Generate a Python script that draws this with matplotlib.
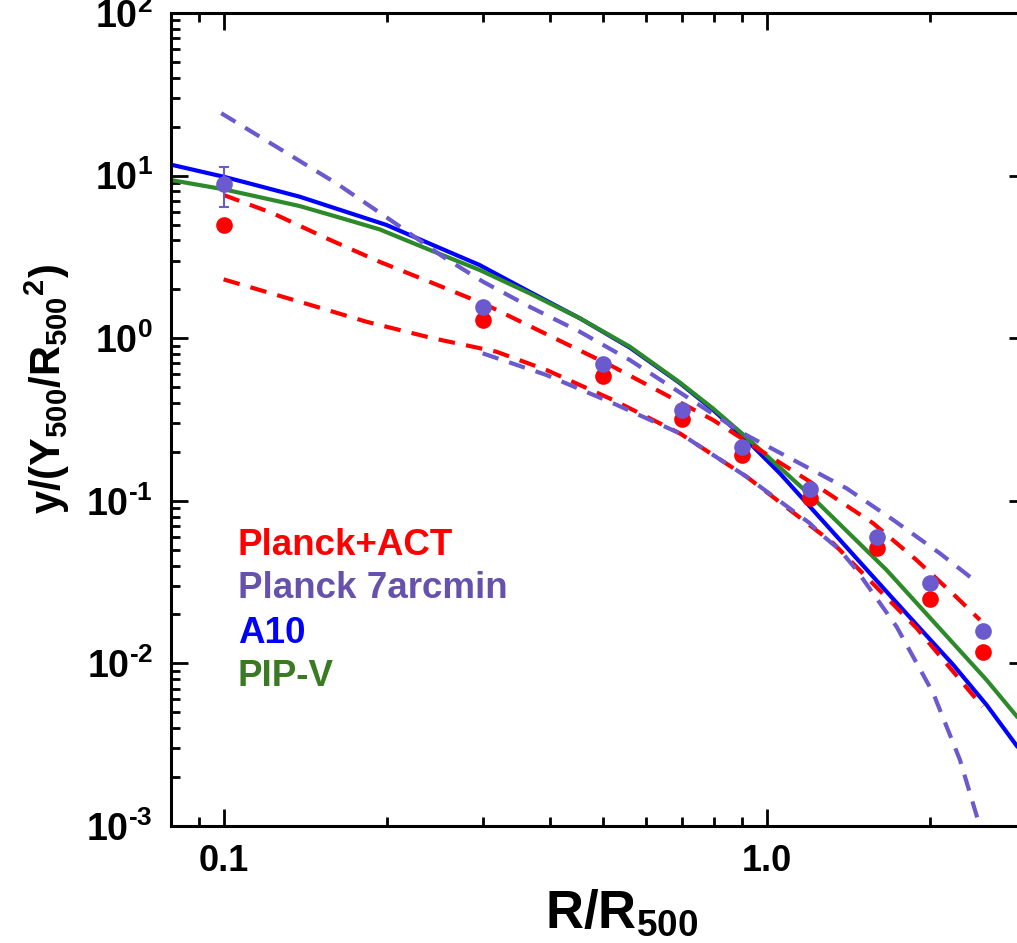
import matplotlib
matplotlib.use("Agg")
import matplotlib.pyplot as plt
from matplotlib.ticker import FixedLocator, NullFormatter, LogLocator

plt.rcParams['font.family'] = ['Liberation Sans', 'DejaVu Sans']
plt.rcParams['font.weight'] = 'bold'
plt.rcParams['mathtext.fontset'] = 'custom'
plt.rcParams['mathtext.rm'] = 'Liberation Sans:bold'
plt.rcParams['mathtext.it'] = 'Liberation Sans:bold'
plt.rcParams['mathtext.bf'] = 'Liberation Sans:bold'
plt.rcParams['mathtext.default'] = 'rm'

# ---- data points ----
r_pts = [0.1, 0.3, 0.5, 0.7, 0.9, 1.2, 1.6, 2.0, 2.5]
y_planck_act = [5.0, 1.29, 0.585, 0.32, 0.191, 0.104, 0.051, 0.0249, 0.0117]
y_planck_7 = [8.84, 1.55, 0.692, 0.364, 0.213, 0.118, 0.0597, 0.0311, 0.0158]
err_r = [0.1]
err_y = [8.84]
err_lo = [8.84 - 6.38]
err_hi = [11.3 - 8.84]

# ---- model curves ----
r_a10 = [0.0798, 0.1, 0.1117, 0.138, 0.1635, 0.1995, 0.243, 0.296, 0.366, 0.453,
         0.560, 0.692, 0.797, 0.919, 1.058, 1.185, 1.664, 1.917, 2.207, 2.543,
         2.892, 3.0]
y_a10 = [11.7, 9.84, 8.94, 7.42, 6.17, 4.97, 3.74, 2.82, 1.93, 1.326,
         0.875, 0.530, 0.362, 0.2365, 0.1476, 0.097, 0.0276, 0.0164, 0.0098, 0.00555,
         0.0031, 0.00262]

r_pip = [0.0798, 0.1, 0.1117, 0.138, 0.1635, 0.1938, 0.2397, 0.296, 0.366, 0.453,
         0.560, 0.692, 0.797, 0.919, 1.058, 1.202, 1.664, 2.207, 2.543, 2.892, 3.0]
y_pip = [9.40, 8.24, 7.60, 6.50, 5.52, 4.67, 3.49, 2.63, 1.89, 1.326,
         0.887, 0.535, 0.3696, 0.245, 0.1602, 0.1086, 0.0375, 0.01329, 0.0079,
         0.00471, 0.00415]

r_act_hi = [0.1, 0.1233, 0.1546, 0.1938, 0.243, 0.305, 0.5216, 0.645, 0.797,
            0.972, 1.271, 1.572, 1.889, 2.239, 2.472]
y_act_hi = [7.60, 5.86, 4.12, 2.95, 2.18, 1.60, 0.668, 0.458, 0.314,
            0.2053, 0.1165, 0.0727, 0.0432, 0.0255, 0.0185]

r_act_lo = [0.1, 0.138, 0.1832, 0.243, 0.318, 0.393, 0.5216, 0.692, 0.919,
            1.327, 1.889, 2.5]
y_act_lo = [2.30, 1.677, 1.263, 0.9986, 0.826, 0.638, 0.417, 0.260, 0.1406,
            0.0548, 0.0165, 0.00542]

r_p7_hi = [0.099, 0.125, 0.1613, 0.205, 0.2535, 0.3004, 0.366, 0.453, 0.560,
           0.743, 0.905, 1.136, 1.404, 1.712, 2.086, 2.454]
y_p7_hi = [24.2, 15.06, 8.97, 5.21, 3.17, 2.226, 1.562, 1.096, 0.734,
           0.398, 0.260, 0.174, 0.1193, 0.0762, 0.0475, 0.0311]

r_p7_lo = [0.3, 0.393, 0.5216, 0.692, 0.919, 1.202, 1.254, 1.365, 1.465,
           1.736, 2.028, 2.271, 2.472]
y_p7_lo = [0.807, 0.594, 0.398, 0.260, 0.1406, 0.0727, 0.0631, 0.0498, 0.0375,
           0.0168, 0.00655, 0.00255, 0.00099]

legend_labels = ['Planck+ACT', 'Planck 7arcmin', 'A10', 'PIP-V']

RED = '#FF0000'
PURPLE = '#6A5ACD'
PURPLE_TXT = '#6652AC'
BLUE = '#0000FF'
GREEN = '#2C8A2A'
GREEN_TXT = '#3A7A22'

W, H = 1017, 943
fig = plt.figure(figsize=(W / 100, H / 100), dpi=100)
left, right, top, bottom = 171, 1025.6, 13, 826
ax = fig.add_axes([left / W, (H - bottom) / H, (right - left) / W, (bottom - top) / H])

lw = 3.0
dash = (4.0, 2.7)
ax.plot(r_a10, y_a10, color=BLUE, lw=lw, solid_capstyle='butt',
        solid_joinstyle='round', zorder=2)
ax.plot(r_pip, y_pip, color=GREEN, lw=lw, solid_capstyle='butt',
        solid_joinstyle='round', zorder=2)
ax.plot(r_act_hi, y_act_hi, color=RED, lw=lw, dashes=dash, zorder=3)
ax.plot(r_act_lo, y_act_lo, color=RED, lw=lw, dashes=dash, zorder=3)
ax.plot(r_p7_hi, y_p7_hi, color=PURPLE, lw=lw, dashes=dash, zorder=3)
ax.plot(r_p7_lo, y_p7_lo, color=PURPLE, lw=lw, dashes=dash, zorder=3)

ax.plot(r_pts, y_planck_act, 'o', color=RED, ms=12, mec='none', zorder=4)
ax.errorbar(err_r, err_y, yerr=[err_lo, err_hi], fmt='none', ecolor=PURPLE,
            elinewidth=1.5, capsize=3.5, capthick=1.5, zorder=4)
ax.plot(r_pts, y_planck_7, 'o', color=PURPLE, ms=12, mec='none', zorder=5)

ax.set_xscale('log')
ax.set_yscale('log')
ax.set_xlim(0.08, 3.0)
ax.set_ylim(1e-3, 1e2)

ax.xaxis.set_major_locator(FixedLocator([0.1, 1.0]))
ax.set_xticklabels(['0.1', '1.0'])
ax.xaxis.set_minor_locator(FixedLocator([0.09, 0.2, 0.3, 0.4, 0.5, 0.6, 0.7, 0.8, 0.9, 2.0]))
ax.xaxis.set_minor_formatter(NullFormatter())

ax.yaxis.set_major_locator(FixedLocator([1e-3, 1e-2, 1e-1, 1e0, 1e1, 1e2]))
ax.set_yticklabels([r'$10^{\text{-}3}$', r'$10^{\text{-}2}$', r'$10^{\text{-}1}$',
                    r'$10^{0}$', r'$10^{1}$', r'$10^{2}$'])
ax.yaxis.set_minor_locator(LogLocator(base=10, subs=[2, 3, 4, 5, 6, 7, 8, 9], numticks=20))
ax.yaxis.set_minor_formatter(NullFormatter())

ax.tick_params(which='both', direction='in', top=True, right=True, width=2, color='black')
ax.tick_params(which='major', length=12.5)
ax.tick_params(which='minor', length=6.3)
ax.tick_params(axis='y', which='major', labelsize=27, pad=13)
ax.tick_params(axis='x', which='major', labelsize=26, pad=13)
for s in ax.spines.values():
    s.set_linewidth(2.2)

fig.text(622 / W, (H - 928) / H, r'$R/R_{500}$', fontsize=38,
         ha='center', va='baseline')
fig.text(47 / W, (H - 389) / H, r'$y/(Y_{500}/R_{500}{}^{2})$', fontsize=30,
         rotation=90, ha='center', va='center')

colors_txt = [RED, PURPLE_TXT, BLUE, GREEN_TXT]
baselines = [555, 598.3, 642.7, 686]
for lab, c, b in zip(legend_labels, colors_txt, baselines):
    fig.text(238 / W, (H - b) / H, lab, color=c, fontsize=26.5, fontweight='bold',
             ha='left', va='baseline')

fig.savefig('out.png', dpi=100)
